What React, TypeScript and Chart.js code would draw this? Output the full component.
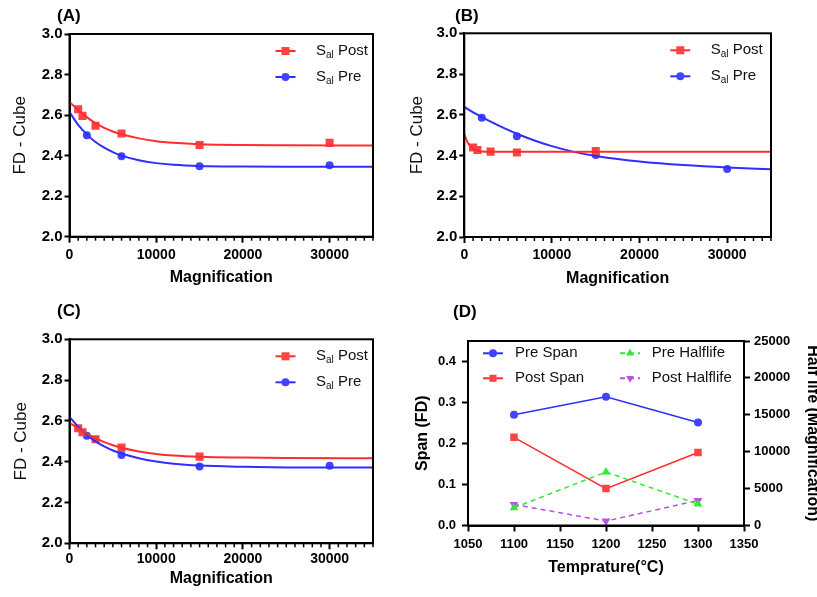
import React, { useEffect, useRef } from 'react';
import { Chart, registerables } from 'chart.js';

Chart.register(...registerables);

const FONT = "'Liberation Sans', Arial, Helvetica, sans-serif";
const RED = '#ff2e2e';
const RED_M = '#ff4242';
const BLUE = '#2e2eff';
const BLUE_M = '#4242ff';
const GREEN = '#33e833';
const PURPLE = '#bb4ee8';

// ---------- Panel A ----------
const A_postX = [1000, 1500, 3000, 6000, 15000, 30000];
const A_postY = [2.629, 2.596, 2.547, 2.509, 2.452, 2.463];
const A_preX = [2000, 6000, 15000, 30000];
const A_preY = [2.501, 2.397, 2.347, 2.352];
const A_fitX = [0, 1000, 2000, 3000, 4000, 5000, 6000, 8000, 10000, 12000, 15000, 20000, 25000, 35000];
const A_postFit = [2.665, 2.625, 2.59, 2.56, 2.537, 2.519, 2.505, 2.485, 2.471, 2.463, 2.456, 2.452, 2.451, 2.45];
const A_preFit = [2.615, 2.552, 2.505, 2.467, 2.439, 2.417, 2.4, 2.377, 2.363, 2.355, 2.349, 2.346, 2.345, 2.345];

// ---------- Panel B ----------
const B_postX = [1000, 1500, 3000, 6000, 15000];
const B_postY = [2.439, 2.427, 2.419, 2.415, 2.422];
const B_preX = [2000, 6000, 15000, 30000];
const B_preY = [2.586, 2.494, 2.402, 2.334];
const B_postFitX = [0, 250, 500, 750, 1000, 1500, 2000, 3000, 35000];
const B_postFit = [2.505, 2.476, 2.456, 2.442, 2.433, 2.424, 2.42, 2.418, 2.418];
const B_preFitX = [0, 2000, 4000, 6000, 8000, 10000, 12500, 15000, 20000, 25000, 30000, 35000];
const B_preFit = [2.637, 2.589, 2.546, 2.507, 2.474, 2.446, 2.418, 2.398, 2.371, 2.353, 2.341, 2.333];

// ---------- Panel C ----------
const C_postX = [1000, 1500, 3000, 6000, 15000];
const C_postY = [2.564, 2.544, 2.51, 2.469, 2.425];
const C_preX = [2000, 6000, 15000, 30000];
const C_preY = [2.527, 2.433, 2.376, 2.38];
const C_fitX = [0, 1000, 2000, 3000, 4000, 5000, 6000, 8000, 10000, 12000, 15000, 20000, 25000, 35000];
const C_postFit = [2.591, 2.563, 2.537, 2.515, 2.496, 2.481, 2.468, 2.45, 2.438, 2.43, 2.424, 2.42, 2.418, 2.417];
const C_preFit = [2.62, 2.571, 2.531, 2.5, 2.475, 2.455, 2.44, 2.417, 2.401, 2.39, 2.381, 2.375, 2.372, 2.371];

// ---------- Panel D ----------
const temps = [1100, 1200, 1300];
const preSpan = [0.27, 0.314, 0.251];
const postSpan = [0.215, 0.09, 0.178];
const preHalf = [2400, 7250, 2900];
const postHalf = [2850, 600, 3400];

const fdTicksY = [2.0, 2.2, 2.4, 2.6, 2.8, 3.0];
const spanTicks = [0, 0.1, 0.2, 0.3, 0.4];

const pts = (xs: number[], ys: number[]) => xs.map((x, i) => ({ x, y: ys[i] }));

type LegendItem = {
  main: string;
  sub?: string;
  rest: string;
  color: string;
  mcolor: string;
  style: 'circle' | 'rect' | 'triangle' | 'triangleDown';
  r: number;
  dash?: boolean;
  lx0: number;
  lx1: number;
  tx: number;
  dy: number;
};

function drawMarker(ctx: CanvasRenderingContext2D, style: string, x: number, y: number, r: number, color: string) {
  ctx.fillStyle = color;
  ctx.beginPath();
  if (style === 'circle') {
    ctx.arc(x, y, r, 0, Math.PI * 2);
  } else if (style === 'rect') {
    const s = r * Math.SQRT1_2;
    ctx.rect(x - s, y - s, 2 * s, 2 * s);
  } else {
    const sign = style === 'triangle' ? 1 : -1;
    for (let k = 0; k < 3; k++) {
      const ang = (k * 2 * Math.PI) / 3;
      const px = x + Math.sin(ang) * r;
      const py = y - sign * Math.cos(ang) * r;
      if (k === 0) ctx.moveTo(px, py);
      else ctx.lineTo(px, py);
    }
    ctx.closePath();
  }
  ctx.fill();
}

function framePlugin(minorX: boolean, legend: LegendItem[]) {
  return {
    id: 'frameLegend',
    afterDraw(chart: any) {
      const { ctx, chartArea: a } = chart;
      ctx.save();
      ctx.strokeStyle = '#000';
      ctx.lineWidth = 2;
      ctx.strokeRect(a.left, a.top, a.right - a.left, a.bottom - a.top);
      if (minorX) {
        const xs = chart.scales.x;
        ctx.lineWidth = 1.5;
        for (let v = xs.min + 1000; v <= xs.max + 1; v += 1000) {
          if (v % 10000 === 0) continue;
          const px = xs.getPixelForValue(v);
          ctx.beginPath();
          ctx.moveTo(px, a.bottom);
          ctx.lineTo(px, a.bottom + 4);
          ctx.stroke();
        }
      }
      for (const it of legend) {
        const y = a.top + it.dy;
        ctx.strokeStyle = it.color;
        ctx.lineWidth = 2;
        ctx.setLineDash(it.dash ? [5, 4] : []);
        ctx.beginPath();
        ctx.moveTo(a.left + it.lx0, y);
        ctx.lineTo(a.left + it.lx1, y);
        ctx.stroke();
        ctx.setLineDash([]);
        drawMarker(ctx, it.style, a.left + (it.lx0 + it.lx1) / 2, y, it.r, it.mcolor);
        ctx.fillStyle = '#111';
        ctx.textBaseline = 'middle';
        ctx.textAlign = 'left';
        let x = a.left + it.tx;
        ctx.font = `15px ${FONT}`;
        ctx.fillText(it.main, x, y);
        x += ctx.measureText(it.main).width;
        if (it.sub) {
          ctx.font = `10px ${FONT}`;
          ctx.fillText(it.sub, x, y + 4);
          x += ctx.measureText(it.sub).width;
        }
        ctx.font = `15px ${FONT}`;
        ctx.fillText(it.rest, x, y);
      }
      ctx.restore();
    },
  };
}

type FDCfg = {
  postX: number[];
  postY: number[];
  preX: number[];
  preY: number[];
  postFitX: number[];
  postFit: number[];
  preFitX: number[];
  preFit: number[];
  padTop: number;
  padRight: number;
  yW: number;
  xH: number;
  xTitlePad: number;
  yTitlePad: number;
  xTickPad: number;
};

function fdConfig(c: FDCfg): any {
  const legend: LegendItem[] = [
    { main: 'S', sub: 'al', rest: ' Post', color: RED, mcolor: RED_M, style: 'rect', r: 5.7, lx0: 206, lx1: 226, tx: 246.5, dy: 17 },
    { main: 'S', sub: 'al', rest: ' Pre', color: BLUE, mcolor: BLUE_M, style: 'circle', r: 4, lx0: 206, lx1: 226, tx: 246.5, dy: 43 },
  ];
  return {
    type: 'scatter',
    data: {
      datasets: [
        { label: 'Post fit', data: pts(c.postFitX, c.postFit), showLine: true, borderColor: RED, borderWidth: 2, pointRadius: 0, cubicInterpolationMode: 'monotone' },
        { label: 'Pre fit', data: pts(c.preFitX, c.preFit), showLine: true, borderColor: BLUE, borderWidth: 2, pointRadius: 0, cubicInterpolationMode: 'monotone' },
        { label: 'Sal Post', data: pts(c.postX, c.postY), showLine: false, pointStyle: 'rect', pointRadius: 5.7, backgroundColor: RED_M, borderColor: RED_M, borderWidth: 0 },
        { label: 'Sal Pre', data: pts(c.preX, c.preY), showLine: false, pointStyle: 'circle', pointRadius: 4, backgroundColor: BLUE_M, borderColor: BLUE_M, borderWidth: 0 },
      ],
    },
    options: {
      animation: false,
      responsive: false,
      devicePixelRatio: 1,
      events: [],
      layout: { padding: { top: c.padTop, right: c.padRight, left: 0, bottom: 0 } },
      plugins: { legend: { display: false }, tooltip: { enabled: false } },
      scales: {
        x: {
          type: 'linear',
          min: 0,
          max: 35000,
          afterFit: (s: any) => { s.height = c.xH; },
          ticks: {
            stepSize: 1000,
            autoSkip: false,
            maxRotation: 0,
            color: '#000',
            padding: c.xTickPad,
            font: { family: FONT, size: 14, weight: 'bold' },
            callback: (v: any) => (Number(v) % 10000 === 0 ? String(v) : ''),
          },
          grid: {
            drawOnChartArea: false,
            tickLength: 6,
            tickWidth: 2,
            tickColor: (ctx: any) => (ctx.tick && ctx.tick.value % 10000 === 0 ? '#000' : 'rgba(0,0,0,0)'),
          },
          border: { color: '#000', width: 2 },
          title: { display: true, text: 'Magnification', color: '#000', font: { family: FONT, size: 16, weight: 'bold' }, padding: { top: 0, bottom: c.xTitlePad } },
        },
        y: {
          type: 'linear',
          min: 2,
          max: 3,
          afterFit: (s: any) => { s.width = c.yW; },
          afterBuildTicks: (s: any) => { s.ticks = fdTicksY.map((v) => ({ value: v })); },
          ticks: {
            color: '#000',
            padding: 2,
            font: { family: FONT, size: 15, weight: 'bold' },
            callback: (v: any) => Number(v).toFixed(1),
          },
          grid: { drawOnChartArea: false, tickLength: 5, tickWidth: 2, tickColor: '#000' },
          border: { color: '#000', width: 2 },
          title: { display: true, text: 'FD - Cube', color: '#111', font: { family: FONT, size: 17, weight: 'normal' }, padding: { top: c.yTitlePad, bottom: 0 } },
        },
      },
    },
    plugins: [framePlugin(true, legend)],
  };
}

function dConfig(): any {
  const legend: LegendItem[] = [
    { main: 'Pre Span', rest: '', color: BLUE, mcolor: BLUE_M, style: 'circle', r: 4, lx0: 15, lx1: 35, tx: 47, dy: 12.3 },
    { main: 'Post Span', rest: '', color: RED, mcolor: RED_M, style: 'rect', r: 5, lx0: 15, lx1: 35, tx: 47, dy: 37.3 },
    { main: 'Pre Halflife', rest: '', color: GREEN, mcolor: GREEN, style: 'triangle', r: 4.5, dash: true, lx0: 152, lx1: 172, tx: 183.7, dy: 12.3 },
    { main: 'Post Halflife', rest: '', color: PURPLE, mcolor: PURPLE, style: 'triangleDown', r: 4.5, dash: true, lx0: 152, lx1: 172, tx: 183.7, dy: 37.3 },
  ];
  const tickFont = { family: FONT, size: 13, weight: 'bold' };
  return {
    type: 'scatter',
    data: {
      datasets: [
        { label: 'Pre Halflife', data: pts(temps, preHalf), yAxisID: 'y2', showLine: true, borderColor: GREEN, borderWidth: 1.5, borderDash: [5, 4], pointStyle: 'triangle', pointRadius: 5, backgroundColor: GREEN, pointBorderWidth: 0 },
        { label: 'Post Halflife', data: pts(temps, postHalf), yAxisID: 'y2', showLine: true, borderColor: PURPLE, borderWidth: 1.5, borderDash: [5, 4], pointStyle: 'triangle', pointRotation: 180, pointRadius: 5, backgroundColor: PURPLE, pointBorderWidth: 0 },
        { label: 'Post Span', data: pts(temps, postSpan), yAxisID: 'y', showLine: true, borderColor: RED, borderWidth: 1.5, pointStyle: 'rect', pointRadius: 5.3, backgroundColor: RED_M, pointBorderWidth: 0 },
        { label: 'Pre Span', data: pts(temps, preSpan), yAxisID: 'y', showLine: true, borderColor: BLUE, borderWidth: 1.5, pointStyle: 'circle', pointRadius: 4, backgroundColor: BLUE_M, pointBorderWidth: 0 },
      ],
    },
    options: {
      animation: false,
      responsive: false,
      devicePixelRatio: 1,
      events: [],
      layout: { padding: { top: 41, right: 0, left: 0, bottom: 0 } },
      plugins: { legend: { display: false }, tooltip: { enabled: false } },
      scales: {
        x: {
          type: 'linear',
          min: 1050,
          max: 1350,
          afterFit: (s: any) => { s.height = 71.5; },
          ticks: { stepSize: 50, autoSkip: false, maxRotation: 0, color: '#000', padding: 5, font: tickFont, callback: (v: any) => String(v) },
          grid: { drawOnChartArea: false, tickLength: 6, tickWidth: 2, tickColor: '#000' },
          border: { color: '#000', width: 2 },
          title: { display: true, text: 'Temprature(°C)', color: '#000', font: { family: FONT, size: 16, weight: 'bold' }, padding: { top: 0, bottom: 19.9 } },
        },
        y: {
          type: 'linear',
          position: 'left',
          min: 0,
          max: 0.45,
          afterFit: (s: any) => { s.width = 68; },
          afterBuildTicks: (s: any) => { s.ticks = spanTicks.map((v) => ({ value: v })); },
          ticks: { color: '#000', padding: 6, font: tickFont, callback: (v: any) => Number(v).toFixed(1) },
          grid: { drawOnChartArea: false, tickLength: 6, tickWidth: 2, tickColor: '#000' },
          border: { color: '#000', width: 2 },
          title: { display: true, text: 'Span (FD)', color: '#000', font: { family: FONT, size: 16, weight: 'bold' }, padding: { top: 13.4, bottom: 0 } },
        },
        y2: {
          type: 'linear',
          position: 'right',
          min: 0,
          max: 25000,
          afterFit: (s: any) => { s.width = 81; },
          ticks: { stepSize: 5000, color: '#000', padding: 4, font: tickFont, callback: (v: any) => String(v) },
          grid: { drawOnChartArea: false, tickLength: 6, tickWidth: 2, tickColor: '#000' },
          border: { color: '#000', width: 2 },
          title: { display: true, text: 'Half life (Magnification)', color: '#000', font: { family: FONT, size: 16, weight: 'bold' }, padding: { top: 2.9, bottom: 0 } },
        },
      },
    },
    plugins: [framePlugin(false, legend)],
  };
}

function ChartCanvas({ left, top, width, height, make }: { left: number; top: number; width: number; height: number; make: () => any }) {
  const ref = useRef<HTMLCanvasElement>(null);
  useEffect(() => {
    const chart = new Chart(ref.current as HTMLCanvasElement, make());
    return () => chart.destroy();
  }, []);
  return (
    <canvas
      ref={ref}
      width={width}
      height={height}
      style={{ position: 'absolute', left, top, width, height, display: 'block' }}
    />
  );
}

const titleStyle = (left: number, top: number): React.CSSProperties => ({
  position: 'absolute',
  left,
  top,
  font: `bold 17px ${FONT}`,
  lineHeight: '17px',
  color: '#000',
  whiteSpace: 'nowrap',
});

export default function App() {
  return (
    <div style={{ position: 'fixed', left: 0, top: 0, width: 817, height: 597, overflow: 'hidden', background: '#fff' }}>
      <ChartCanvas
        left={0}
        top={0}
        width={400}
        height={300}
        make={() =>
          fdConfig({
            postX: A_postX, postY: A_postY, preX: A_preX, preY: A_preY,
            postFitX: A_fitX, postFit: A_postFit, preFitX: A_fitX, preFit: A_preFit,
            padTop: 34, padRight: 27, yW: 69.5, xH: 63.3, xTitlePad: 12.4, yTitlePad: 9.8, xTickPad: 4,
          })
        }
      />
      <ChartCanvas
        left={400}
        top={0}
        width={417}
        height={300}
        make={() =>
          fdConfig({
            postX: B_postX, postY: B_postY, preX: B_preX, preY: B_preY,
            postFitX: B_postFitX, postFit: B_postFit, preFitX: B_preFitX, preFit: B_preFit,
            padTop: 33.3, padRight: 46, yW: 64.3, xH: 63, xTitlePad: 11.4, yTitlePad: 7.3, xTickPad: 4,
          })
        }
      />
      <ChartCanvas
        left={0}
        top={300}
        width={400}
        height={297}
        make={() =>
          fdConfig({
            postX: C_postX, postY: C_postY, preX: C_preX, preY: C_preY,
            postFitX: C_fitX, postFit: C_postFit, preFitX: C_fitX, preFit: C_preFit,
            padTop: 39.3, padRight: 27, yW: 69.5, xH: 53.7, xTitlePad: 8.5, yTitlePad: 10.8, xTickPad: 1,
          })
        }
      />
      <ChartCanvas left={400} top={300} width={425} height={297} make={dConfig} />
      <div style={titleStyle(57, 7)}>(A)</div>
      <div style={titleStyle(455, 7)}>(B)</div>
      <div style={titleStyle(57, 302)}>(C)</div>
      <div style={titleStyle(453, 303)}>(D)</div>
    </div>
  );
}
